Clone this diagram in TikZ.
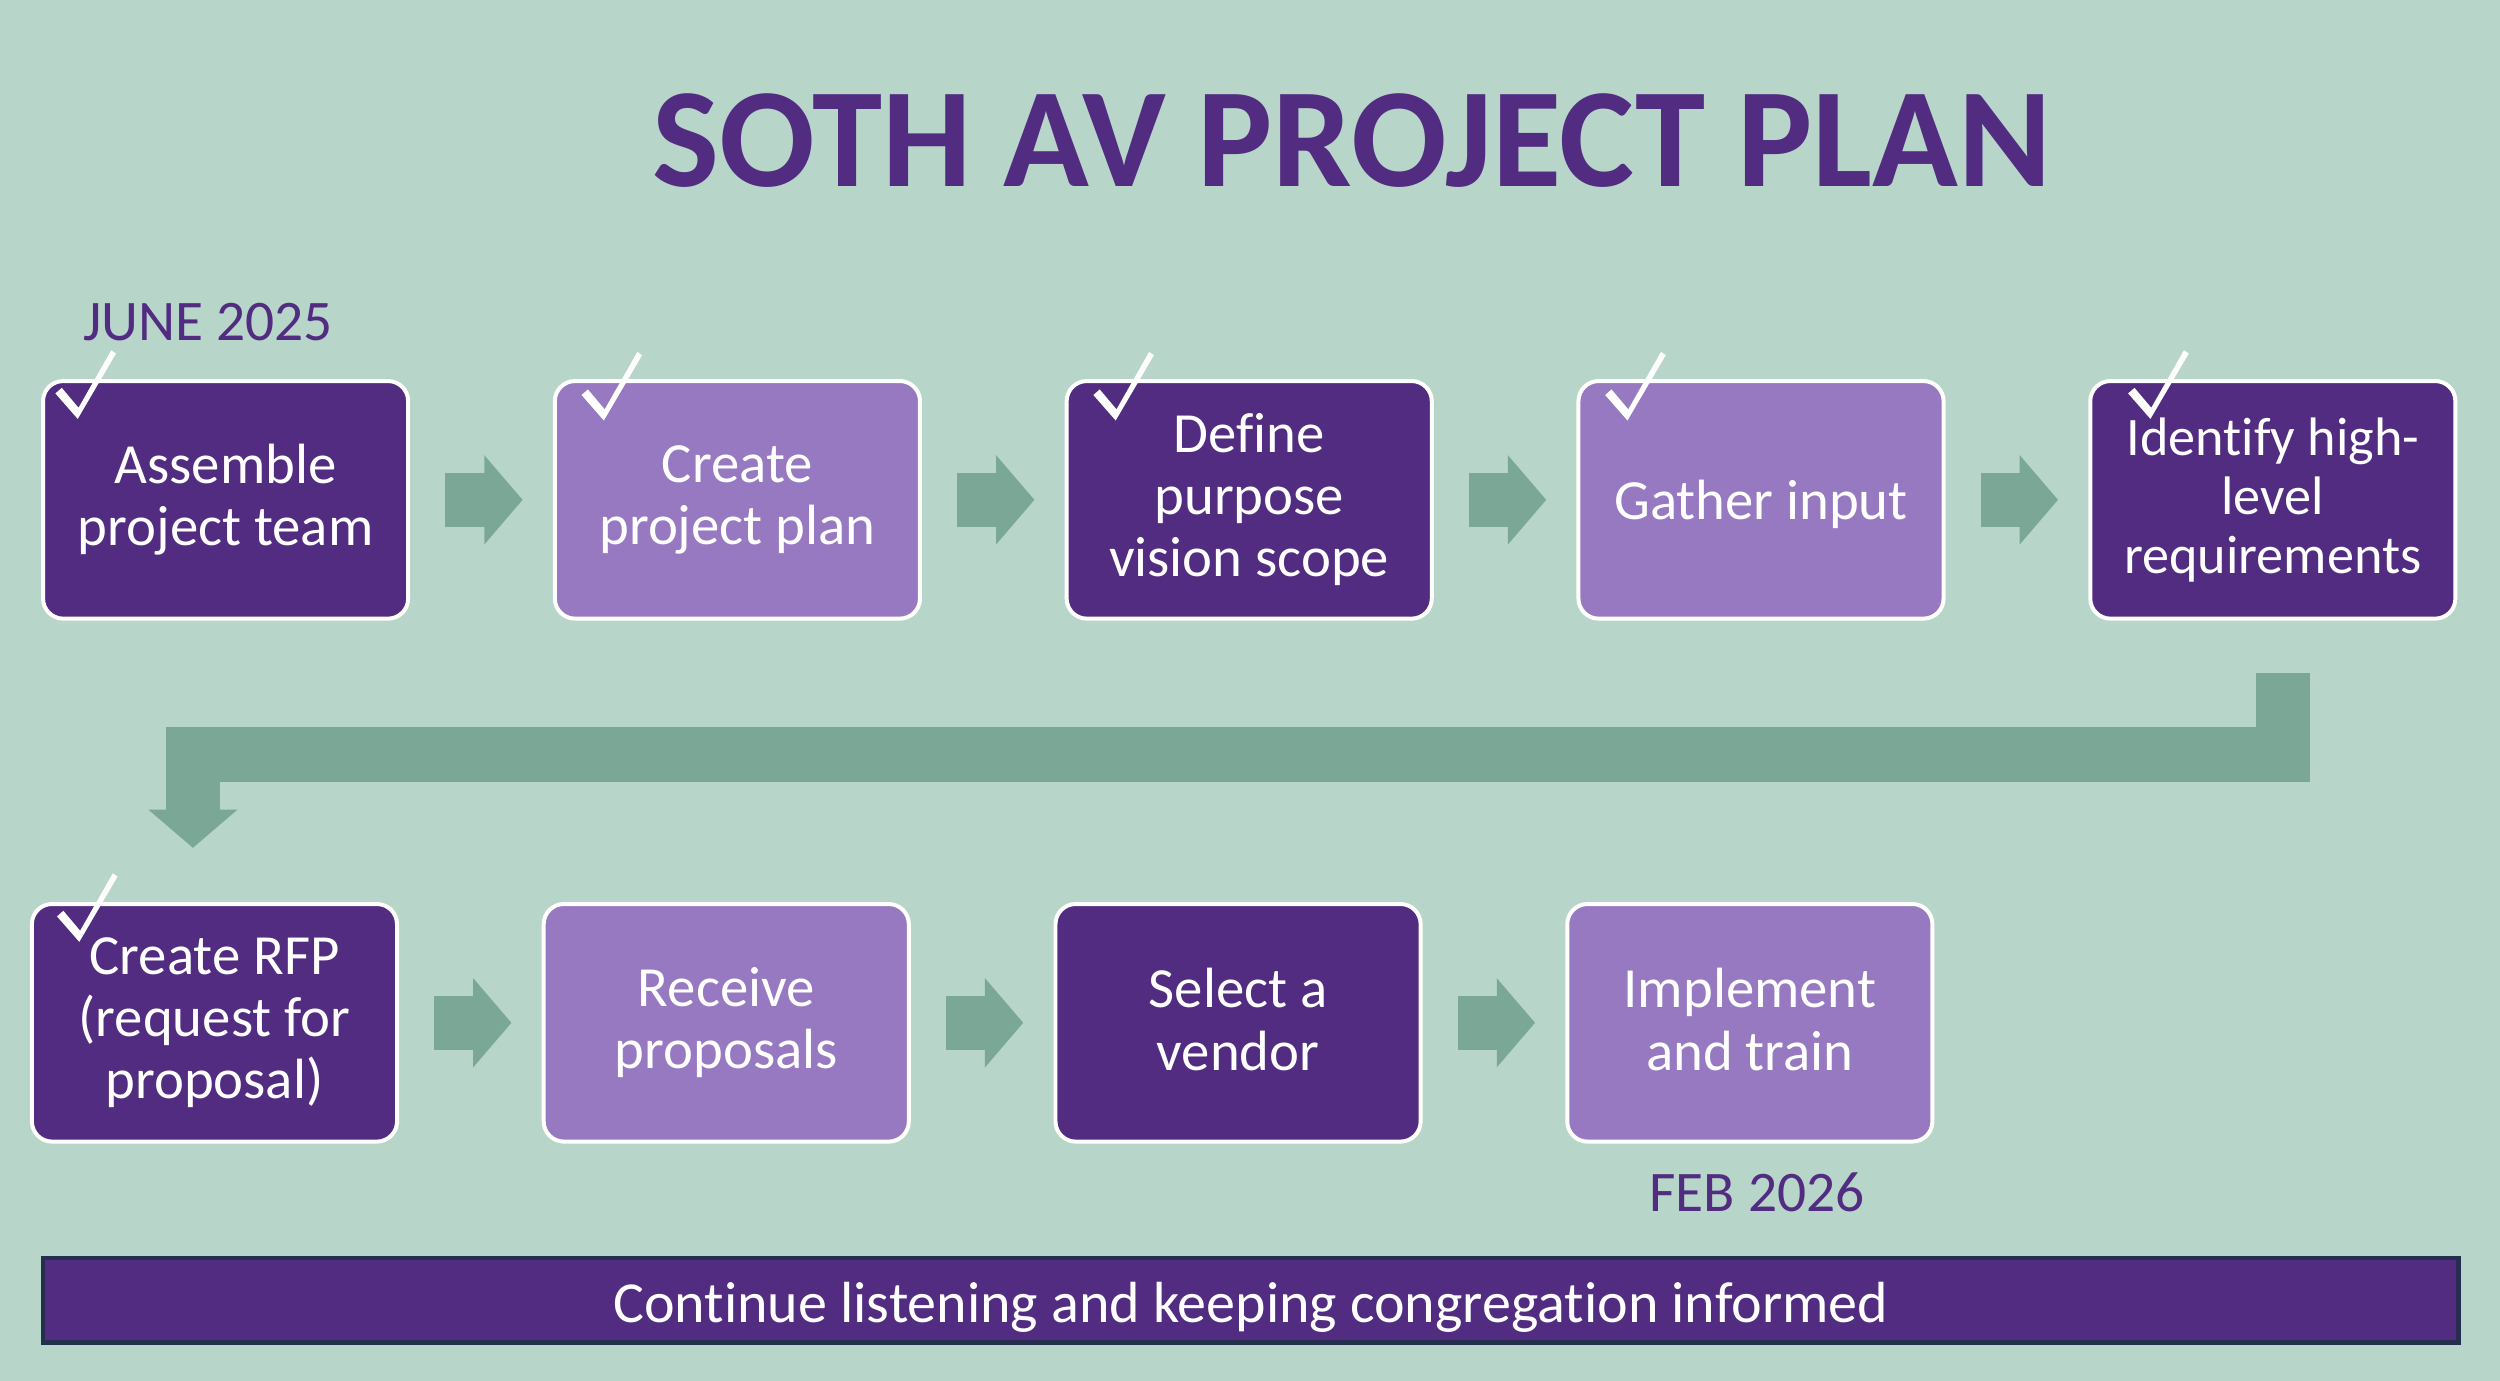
\documentclass[tikz,border=0pt]{standalone}
\usepackage{fontspec}
\setmainfont{Carlito}[Ligatures=NoCommon]
\usetikzlibrary{arrows.meta}
\usetikzlibrary{calc}
\usepackage{xcolor}

\definecolor{sage}{RGB}{184,213,202}
\definecolor{deepplum}{RGB}{81,44,128}
\definecolor{lilac}{RGB}{151,121,193}
\definecolor{flowgreen}{RGB}{123,168,150}
\definecolor{barline}{RGB}{37,46,78}

% white tick over the top left corner of a box: box, offset of the tick's bottom
\newcommand{\donemark}[3]{%
  \fill[white, shift={($(#1.north west)+(#2,#3)$)}] (-14,-13) -- (0,3) -- (24,-38) -- (21,-40) -- (0.5,-4) -- (-10,-16.5) -- cycle;}
\newcommand{\stepstrut}{\rule[-2.2pt]{0pt}{17.2pt}}

\begin{document}
\begin{tikzpicture}[x=0.5pt,y=0.5pt,yscale=-1,xscale=1,
  stepbox/.style={rectangle, rounded corners=6.3pt, draw=white, line width=1.25pt,
    minimum width=114.5pt, minimum height=74.5pt, inner sep=0pt, align=center,
    text=white, font=\fontsize{17.8}{19.5}\selectfont,
    execute at begin node=\stepstrut, execute at end node=\stepstrut},
  stepdark/.style={stepbox, fill=deepplum},
  steplight/.style={stepbox, fill=lilac},
  datelabel/.style={text=deepplum, inner sep=0pt, font=\fontsize{18}{21}\selectfont},
  flow/.style={draw=flowgreen, line width=17pt, line join=miter,
    -{Triangle[width=28pt,length=12pt,line width=0pt]},
    preaction={draw=flowgreen, line width=17pt, arrows=-, shorten >=10pt}}]

% background
\path[fill=sage] (0,0) rectangle (1568,866);

% Text Node
\node[text=deepplum, inner sep=0pt, font=\fontsize{44.4}{50}\selectfont\bfseries] (title) at (848,88) {SOTH AV PROJECT PLAN};
% Text Node
\node[datelabel] (start) at (130.5,202) {JUNE 2025};

% first row
\node[stepdark] (b1) at (141.5,313.5) {Assemble\\project team};
\node[steplight] (b2) at (462.5,313.5) {Create\\project plan};
\node[stepdark] (b3) at (783.5,313.5) {Define\\purpose\\vision scope};
\node[steplight] (b4) at (1104.5,313.5) {Gather input};
\node[stepdark, font=\fontsize{17}{18.5}\selectfont] (b5) at (1425.5,313.5) {Identify high-\\level\\requirements};

% second row
\node[stepdark] (r1) at (134.5,641.5) {Create RFP\\(request for\\proposal)};
\node[steplight] (r2) at (455.5,641.5) {Receive\\proposals};
\node[stepdark] (r3) at (776.5,641.5) {Select a\\vendor};
\node[steplight] (r4) at (1097.5,641.5) {Implement\\and train};

% Text Node
\node[datelabel] (finish) at (1102,748) {FEB 2026};

% arrows
\foreach \a/\b in {b1/b2,b2/b3,b3/b4,b4/b5,r1/r2,r2/r3,r3/r4}
  \draw[flow] ($(\a.east)+(22,0)$) -- ($(\b.west)+(-19,0)$);
\coordinate (turn) at ($(b5.south)+(6.5,33)$);
\draw[flow] (turn) -- ++(0,51) -| ($(r1.north)+(-13.5,-34)$);

% ticks
\donemark{b1}{23}{22}
\donemark{b2}{32}{23}
\donemark{b3}{32}{23}
\donemark{b4}{32}{23}
\donemark{b5}{39}{22}
\donemark{r1}{31}{22}

% bottom banner
\node[fill=deepplum, draw=barline, line width=1.5pt, minimum width=757.5pt, minimum height=26.5pt,
  inner sep=0pt, text height=16pt, text depth=2pt, text=white,
  font=\fontsize{18.2}{20}\selectfont] (note) at (784.5,815.5)
  {Continue listening and keeping congregation informed};

\end{tikzpicture}
\end{document}
